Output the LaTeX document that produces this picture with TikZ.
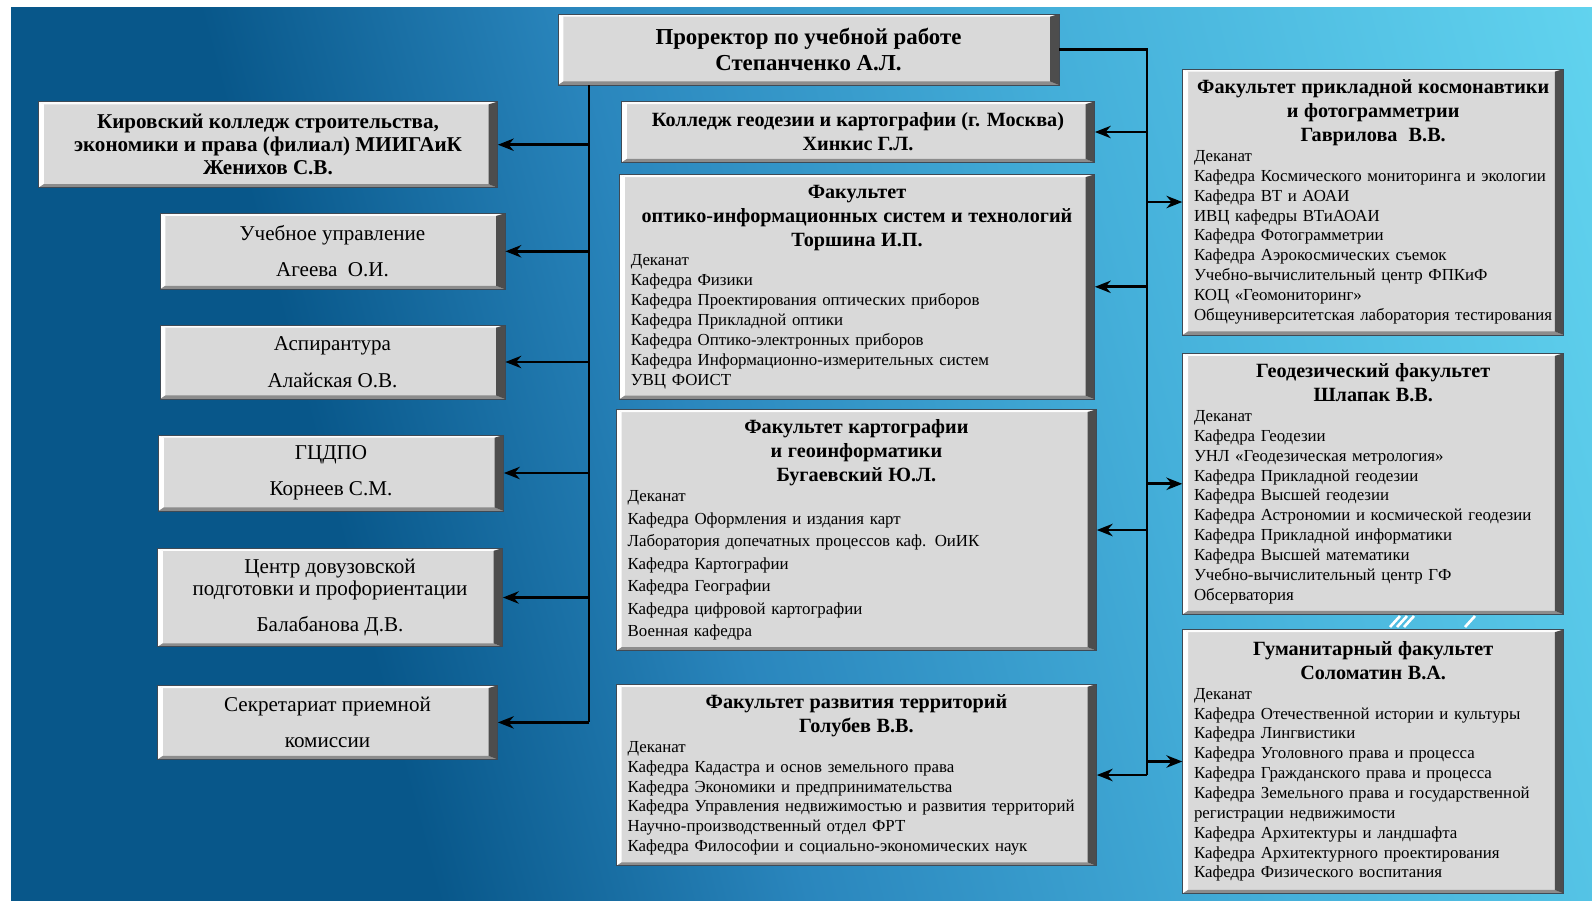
\documentclass[tikz,border=0pt]{standalone}
\usepackage{fontspec}
\setmainfont{Liberation Serif}
\usetikzlibrary{arrows.meta}
\setlength{\parindent}{0pt}

\definecolor{bgdark}{HTML}{08578A}
\definecolor{bgmid}{HTML}{2A86BD}
\definecolor{bgsky}{HTML}{45B0DA}
\definecolor{bglight}{HTML}{62D4EF}
\definecolor{plate}{HTML}{D9D9D9}
\definecolor{platedark}{HTML}{4D4D4D}
\definecolor{plategrey}{HTML}{8C8C8C}
\definecolor{plateedge}{HTML}{3F4A55}

\pgfdeclarehorizontalshading{slide}{100bp}{color(0bp)=(bgdark); color(37bp)=(bgdark); color(47bp)=(bgmid); color(60bp)=(bgsky); color(75bp)=(bglight); color(100bp)=(bglight)}

\newcommand{\topfont}{\fontsize{13}{14.5}\selectfont\bfseries}
\newcommand{\kirovfont}{\fontsize{12}{13}\selectfont\bfseries}
\newcommand{\sidefont}{\fontsize{12}{12.7}\selectfont}
\newcommand{\headfont}{\fontsize{11.5}{13.6}\selectfont\bfseries}
\newcommand{\bodyfont}{\fontsize{9.6}{11.3}\selectfont}
\newcommand{\facname}[1]{{\centering\headfont #1\par}}

\tikzset{
  bevel/.style={path picture={
    \coordinate (nw) at (path picture bounding box.north west);
    \coordinate (ne) at (path picture bounding box.north east);
    \coordinate (sw) at (path picture bounding box.south west);
    \coordinate (se) at (path picture bounding box.south east);
    \fill[white!94!plate] (nw) -- (ne) -- ([shift={(-5pt,-1.5pt)}]ne) -- ([shift={(3pt,-1.5pt)}]nw) -- cycle;
    \fill[white] (nw) -- (sw) -- ([shift={(3pt,2pt)}]sw) -- ([shift={(3pt,-1.5pt)}]nw) -- cycle;
    \fill[plategrey] (sw) -- (se) -- ([shift={(-5pt,2pt)}]se) -- ([shift={(3pt,2pt)}]sw) -- cycle;
    \fill[platedark] (ne) -- (se) -- ([shift={(-5pt,2pt)}]se) -- ([shift={(-5pt,-1.5pt)}]ne) -- cycle;
  }},
  box/.style={bevel, fill=plate, draw=plateedge, line width=0.5pt, inner sep=6pt, align=center},
  side/.style={box, font=\sidefont, minimum width=6.9cm},
  facbox/.style={box, font=\bodyfont, align=left},
  wire/.style={line width=1.6pt},
  link/.style={wire, -{Stealth[length=9pt,width=7pt]}}
}

\begin{document}
\begin{tikzpicture}[x=0.02cm, y=-0.02cm]
  \useasboundingbox (0,0) rectangle (1592,900);
  \fill[white] (0,0) rectangle (1592,900);
  \begin{scope}
    \clip (11,7) rectangle (1592,900);
    \shade[shading=slide, shading angle=15] (-100,-450) rectangle (1700,1350);
  \end{scope}
  \draw[white, line width=1.5pt] (1390,627) -- (1400,616) (1397,627) -- (1407,616)
       (1404,627) -- (1414,616) (1465,627) -- (1475,616);

  \node[box, font=\topfont, minimum width=10.02cm, minimum height=1.42cm] (prorector) at (808.5,49.5)
    {Проректор по учебной работе\\Степанченко А.Л.};

  % left column
  \node[box, font=\kirovfont, minimum width=9.18cm, minimum height=1.72cm] (kirov) at (268,144.7)
    {Кировский колледж строительства,\\экономики и права (филиал) МИИГАиК\\Женихов С.В.};
  \node[side, minimum height=1.52cm] (uchupr) at (332.5,251.3) {Учебное управление\\[8pt]Агеева~~О.И.};
  \node[side, minimum height=1.48cm] (aspir) at (332.5,362) {Аспирантура\\[8pt]Алайская О.В.};
  \node[side, minimum height=1.46cm] (gcdpo) at (331,473) {ГЦДПО\\[8pt]Корнеев С.М.};
  \node[side, minimum height=1.96cm] (cdp) at (330,597.5)
    {Центр довузовской\\подготовки и профориентации\\[8pt]Балабанова Д.В.};
  \node[side, minimum width=6.8cm, minimum height=1.48cm] (secr) at (327.5,722.4)
    {Секретариат приемной\\[8pt]комиссии};

  % middle column
  \node[box, font=\headfont, minimum width=9.46cm, minimum height=1.22cm] (college) at (858,132)
    {Колледж геодезии и картографии (г. Москва)\\Хинкис Г.Л.};
  \node[facbox, minimum width=9.5cm, text width=9.05cm, minimum height=4.48cm] (foist) at (857,286.8)
    {\facname{Факультет\\оптико-информационных систем и технологий\\Торшина И.П.}Деканат\\Кафедра Физики\\Кафедра Проектирования оптических приборов\\Кафедра Прикладной оптики\\Кафедра Оптико-электронных приборов\\Кафедра Информационно-измерительных систем\\УВЦ ФОИСТ};
  \node[facbox, minimum width=9.6cm, text width=9.15cm, minimum height=4.8cm] (fkig) at (856.4,530)
    {\facname{Факультет картографии\\и геоинформатики\\Бугаевский Ю.Л.}Деканат\\[1.5pt]Кафедра Оформления и издания карт\\[1.5pt]Лаборатория допечатных процессов каф. ОиИК\\[1.5pt]Кафедра Картографии\\[1.5pt]Кафедра Географии\\[1.5pt]Кафедра цифровой картографии\\[1.5pt]Военная кафедра};
  \node[facbox, minimum width=9.6cm, text width=9.15cm, minimum height=3.6cm] (frt) at (856.4,775)
    {\facname{Факультет развития территорий\\Голубев В.В.}Деканат\\Кафедра Кадастра и основ земельного права\\Кафедра Экономики и предпринимательства\\Кафедра Управления недвижимостью и развития территорий\\Научно-производственный отдел ФРТ\\Кафедра Философии и социально-экономических наук};

  % right column
  \node[facbox, minimum width=7.62cm, text width=7.17cm, minimum height=5.32cm] (fpkf) at (1373.2,202)
    {\facname{Факультет прикладной космонавтики\\и фотограмметрии\\Гаврилова~~В.В.}Деканат\\Кафедра Космического мониторинга и экологии\\Кафедра ВТ и АОАИ\\ИВЦ кафедры ВТиАОАИ\\Кафедра Фотограмметрии\\Кафедра Аэрокосмических съемок\\Учебно-вычислительный центр ФПКиФ\\КОЦ «Геомониторинг»\\Общеуниверситетская лаборатория тестирования};
  \node[facbox, minimum width=7.62cm, text width=7.17cm, minimum height=5.22cm] (gf) at (1373.2,483.8)
    {\facname{Геодезический факультет\\Шлапак В.В.}Деканат\\Кафедра Геодезии\\УНЛ «Геодезическая метрология»\\Кафедра Прикладной геодезии\\Кафедра Высшей геодезии\\Кафедра Астрономии и космической геодезии\\Кафедра Прикладной информатики\\Кафедра Высшей математики\\Учебно-вычислительный центр ГФ\\Обсерватория};
  \node[facbox, minimum width=7.62cm, text width=7.17cm, minimum height=5.28cm] (gumf) at (1373.2,761.5)
    {\facname{Гуманитарный факультет\\Соломатин В.А.}Деканат\\Кафедра Отечественной истории и культуры\\Кафедра Лингвистики\\Кафедра Уголовного права и процесса\\Кафедра Гражданского права и процесса\\Кафедра Земельного права и государственной\\регистрации недвижимости\\Кафедра Архитектуры и ландшафта\\Кафедра Архитектурного проектирования\\Кафедра Физического воспитания};

  % spines
  \coordinate (lspine) at (589,722.4);
  \coordinate (rspine) at (1147,775);
  \draw[wire] (prorector.south -| lspine) -- (lspine);
  \draw[wire] (prorector.east) -| (rspine);

  \path[link] (lspine |- kirov.east)  edge (kirov)
              (lspine |- uchupr.east) edge (uchupr)
              (lspine |- aspir.east)  edge (aspir)
              (lspine |- gcdpo.east)  edge (gcdpo)
              (lspine |- cdp.east)    edge (cdp)
              (lspine |- secr.east)   edge (secr);

  \path[link] (rspine |- college.east) edge (college)
              (rspine |- foist.east)   edge (foist)
              (rspine |- fkig.east)    edge (fkig)
              (rspine |- frt.east)     edge (frt)
              (rspine |- fpkf.west)    edge (fpkf)
              (rspine |- gf.west)      edge (gf)
              (rspine |- gumf.west)    edge (gumf);
\end{tikzpicture}
\end{document}
